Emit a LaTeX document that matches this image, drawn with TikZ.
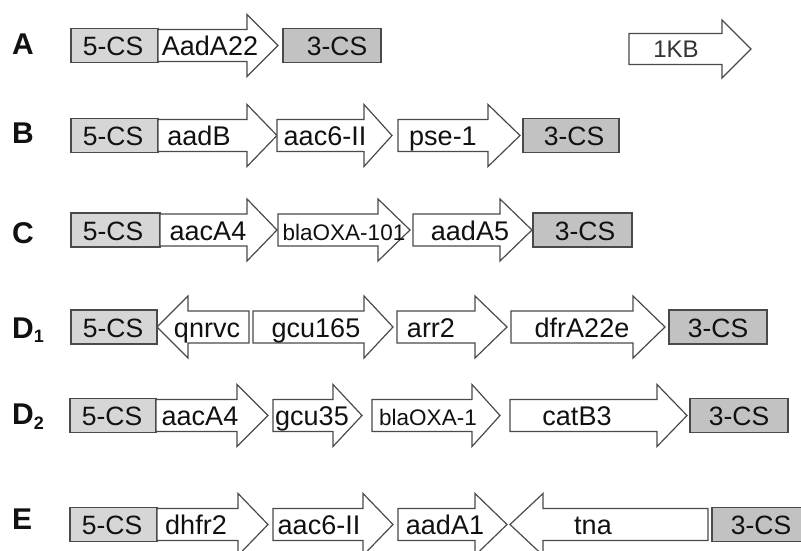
\documentclass[tikz,border=0pt]{standalone}
\usepackage{fontspec}
\setmainfont{Liberation Sans}
\definecolor{edge}{HTML}{4A4A4A}
\definecolor{lightcs}{HTML}{D6D6D6}
\definecolor{darkcs}{HTML}{C2C2C2}
\definecolor{ink}{HTML}{111111}
\tikzset{
  genebody/.style={draw=edge, line width=1.2pt, fill=white, line join=miter},
  genetext/.style={anchor=base, inner sep=0pt, text=ink, font=\fontsize{27}{27}\selectfont},
  csbox/.style={draw=edge, line width=1.2pt, minimum height=34pt, inner sep=0pt},
  csfive/.style={csbox, fill=lightcs},
  csthree/.style={csbox, fill=darkcs},
  cstext/.style={anchor=base, inner sep=0pt, text=ink, font=\fontsize{26.5}{26.5}\selectfont},
  rowlabel/.style={anchor=base west, inner sep=0pt, text=ink, font=\bfseries\fontsize{30}{30}\selectfont}
}
\newcommand\smallgene{\fontsize{22.5}{22.5}\selectfont}
% #1 name, #2 body end, #3 head base, #4 tip, #5 centre y, #6 text x, #7 text
\newcommand\genearrow[7]{%
  \draw[genebody] ({#2},{#5-16}) -- ({#3},{#5-16}) -- ({#3},{#5-31}) -- ({#4},{#5})
     -- ({#3},{#5+31}) -- ({#3},{#5+16}) -- ({#2},{#5+16}) -- cycle;
  \node[genetext] (#1) at ({#6},{#5+10}) {#7};}
% #1 name, #2 left x, #3 right x, #4 centre y, #5 style, #6 text x, #7 text
\newcommand\csbox[7]{%
  \node[#5, minimum width={#3-#2}] (#1) at ({(#2+#3)/2},{#4}) {};
  \node[cstext] (#1t) at ({#6},{#4+10}) {#7};}
\begin{document}
\begin{tikzpicture}[x=1pt,y=-1pt]
\useasboundingbox (0,0) rectangle (801,551);
\clip (0,0) rectangle (801,551);
% row labels
\node[rowlabel] (lA) at (12,55) {A};
\node[rowlabel] (lB) at (12,143) {B};
\node[rowlabel] (lC) at (12,243) {C};
\node[rowlabel] (lD1) at (12,338) {D\raisebox{-4pt}{\fontsize{18}{18}\selectfont 1}};
\node[rowlabel] (lD2) at (12,424) {D\raisebox{-5pt}{\fontsize{18}{18}\selectfont 2}};
\node[rowlabel] (lE) at (12,529) {E};
% row A
\csbox{a5}{71}{158}{45.5}{csfive}{113}{5-CS}
\genearrow{aadA22}{158}{247}{278}{45.5}{210}{AadA22}
\csbox{a3}{283}{381}{45.5}{csthree}{337}{3-CS}
\draw[genebody] (629,{49-15.5}) -- (722,{49-15.5}) -- (722,{49-29}) -- (751,49)
   -- (722,{49+29}) -- (722,{49+15.5}) -- (629,{49+15.5}) -- cycle;
\node[genetext, font=\fontsize{24}{24}\selectfont, text=black!80] (kb) at (676,57.5) {1KB};
% row B
\csbox{b5}{71}{158}{135.5}{csfive}{113}{5-CS}
\genearrow{aadB}{158}{247}{277}{135.5}{199}{aadB}
\genearrow{aacB}{277}{364}{392}{135.5}{325}{aac6-II}
\genearrow{pse}{398}{488}{520}{135.5}{443}{pse-1}
\csbox{b3}{523}{619}{135.5}{csthree}{574}{3-CS}
% row C
\csbox{c5}{71}{160}{230}{csfive}{113}{5-CS}
\genearrow{aacC}{160}{247}{277}{230}{208}{aacA4}
\genearrow{oxa101}{278}{378}{410}{230}{344}{\smallgene blaOXA-101}
\genearrow{aadA5}{413}{500}{532}{230}{470}{aadA5}
\csbox{c3}{533}{632}{230}{csthree}{585}{3-CS}
% row D1
\csbox{d5}{71}{157}{327}{csfive}{113}{5-CS}
\genearrow{qnr}{249}{188}{157}{327}{207}{qnrvc}
\genearrow{gcu165}{253}{364}{393}{327}{316}{gcu165}
\genearrow{arr}{397}{475}{507}{327}{431}{arr2}
\genearrow{dfr}{511}{633}{665}{327}{582}{dfrA22e}
\csbox{d3}{669}{767}{327}{csthree}{718}{3-CS}
% row D2
\csbox{e5}{70}{156}{415.5}{csfive}{112}{5-CS}
\genearrow{aacD}{156}{237}{268}{415.5}{200}{aacA4}
\genearrow{gcu35}{273}{333}{362}{415.5}{312}{gcu35}
\genearrow{oxa1}{372}{472}{500}{415.5}{428}{\smallgene blaOXA-1}
\genearrow{cat}{510}{657}{687}{415.5}{577}{catB3}
\csbox{e3}{690}{788}{415.5}{csthree}{739}{3-CS}
% row E
\csbox{f5}{70}{157}{524.5}{csfive}{112}{5-CS}
\genearrow{dhfr}{157}{238}{268}{524.5}{196}{dhfr2}
\genearrow{aacE}{273}{363}{393}{524.5}{319}{aac6-II}
\genearrow{aadA1}{398}{475}{507}{524.5}{445}{aadA1}
\genearrow{tna}{708}{543}{510}{524.5}{593}{tna}
\csbox{f3}{712}{812}{524.5}{csthree}{761}{3-CS}
\end{tikzpicture}
\end{document}
